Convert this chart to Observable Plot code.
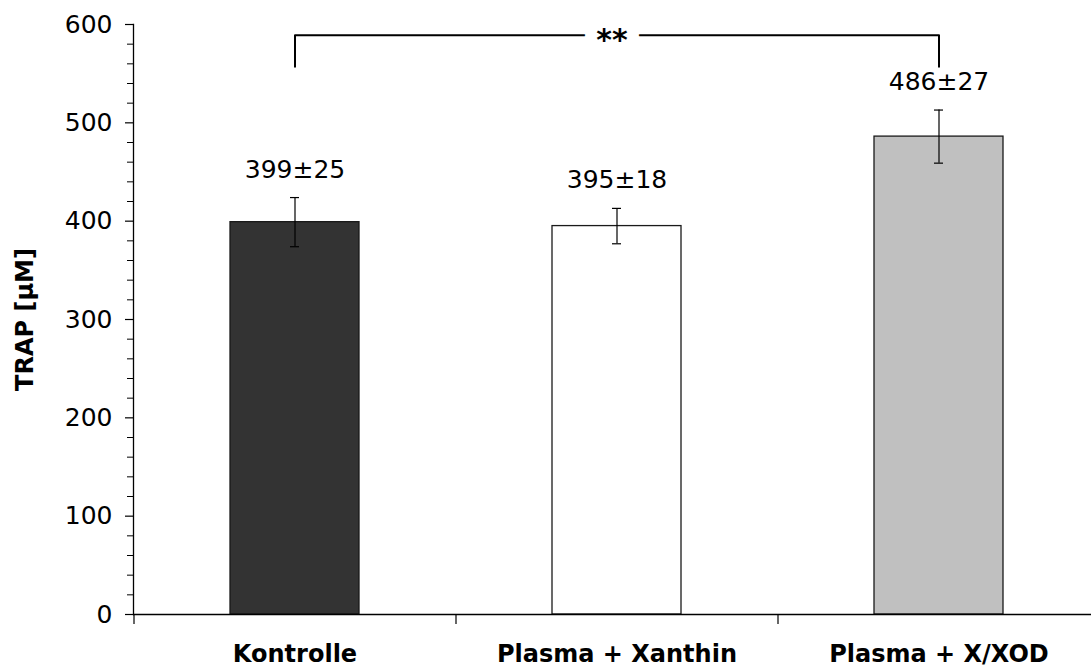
<!DOCTYPE html>
<html>
<head>
<meta charset="utf-8">
<script src="https://cdn.jsdelivr.net/npm/d3@7"></script>
<script src="https://cdn.jsdelivr.net/npm/@observablehq/plot@0.6"></script>
<style>
  html, body { margin: 0; padding: 0; background: #fff; }
  #chart svg { display: block; }
</style>
</head>
<body>
<div id="chart"></div>
<script>
// ---- data ----
const categories = ["Kontrolle", "Plasma + Xanthin", "Plasma + X/XOD"];
const means = [399, 395, 486];
const sds = [25, 18, 27];
const barColors = ["#333333", "#ffffff", "#c0c0c0"];
const yTicks = [0, 100, 200, 300, 400, 500, 600];
const yMinorTicks = [20,40,60,80,120,140,160,180,220,240,260,280,320,340,360,380,420,440,460,480,520,540,560,580];
const yTitle = "TRAP [µM]";
const sigLabel = "**";
const bracketTop = 589;
const bracketEnd = 557;
const bracketFrom = categories[0];
const bracketTo = categories[2];

const data = categories.map((c, i) => ({cat: c, mean: means[i], sd: sds[i], label: `${means[i]}±${sds[i]}`}));
const bracket = [
  {cat: bracketFrom, v: bracketEnd},
  {cat: bracketFrom, v: bracketTop},
  {cat: bracketTo, v: bracketTop},
  {cat: bracketTo, v: bracketEnd}
];

const chart = Plot.plot({
  width: 1091,
  height: 668,
  marginLeft: 133,
  marginRight: 0,
  marginTop: 24,
  marginBottom: 54,
  style: {fontFamily: "'DejaVu Sans', sans-serif", color: "#000", background: "#fff"},
  x: {domain: categories, range: [133, 1099], paddingInner: 0.6, paddingOuter: 0.3, label: null},
  y: {domain: [0, 600], label: null},
  color: {domain: categories, range: barColors},
  marks: [
    Plot.barY(data, {x: "cat", y: "mean", fill: "cat", stroke: "#1a1a1a", strokeWidth: 1.3}),
    Plot.ruleX(data, {x: "cat", y1: d => d.mean - d.sd, y2: d => d.mean + d.sd, stroke: "#000", strokeWidth: 1.2}),
    Plot.tickY(data, {x: "cat", y: d => d.mean - d.sd, insetLeft: 60, insetRight: 60, stroke: "#000", strokeWidth: 1.2}),
    Plot.tickY(data, {x: "cat", y: d => d.mean + d.sd, insetLeft: 60, insetRight: 60, stroke: "#000", strokeWidth: 1.2}),
    Plot.text(data, {x: "cat", y: d => d.mean + d.sd, text: "label", dy: -28, fontSize: 25, fill: "#000"}),
    Plot.line(bracket, {x: "cat", y: "v", stroke: "#000", strokeWidth: 2}),
    Plot.text([sigLabel], {x: () => categories[1], y: () => bracketTop, text: d => d, dx: -5, dy: 5, fontSize: 30, fontWeight: "bold", fill: "#000", stroke: "#fff", strokeWidth: 24}),
    Plot.ruleY([0], {stroke: "#000", strokeWidth: 1.3}),
    Plot.frame({anchor: "left", stroke: "#000", strokeWidth: 1.3}),
    Plot.axisY({ticks: yTicks, tickSize: 8, tickPadding: 13, fontSize: 25, label: null, stroke: "#000", strokeWidth: 1.2}),
    Plot.axisY({ticks: yMinorTicks, tickSize: 6, text: null, label: null, stroke: "#000", strokeWidth: 1}),
    Plot.axisX({tickSize: 0, tickPadding: 30, fontSize: 24, fontWeight: "bold", label: null}),
    Plot.axisX({tickSize: 10, text: null, dx: -161, label: null, stroke: "#000", strokeWidth: 1.2}),
    Plot.text([yTitle], {frameAnchor: "left", rotate: -90, dx: -108, textAnchor: "middle", text: d => d, fontSize: 24, fontWeight: "bold", fill: "#000"})
  ]
});
document.getElementById("chart").appendChild(chart);
</script>
</body>
</html>
